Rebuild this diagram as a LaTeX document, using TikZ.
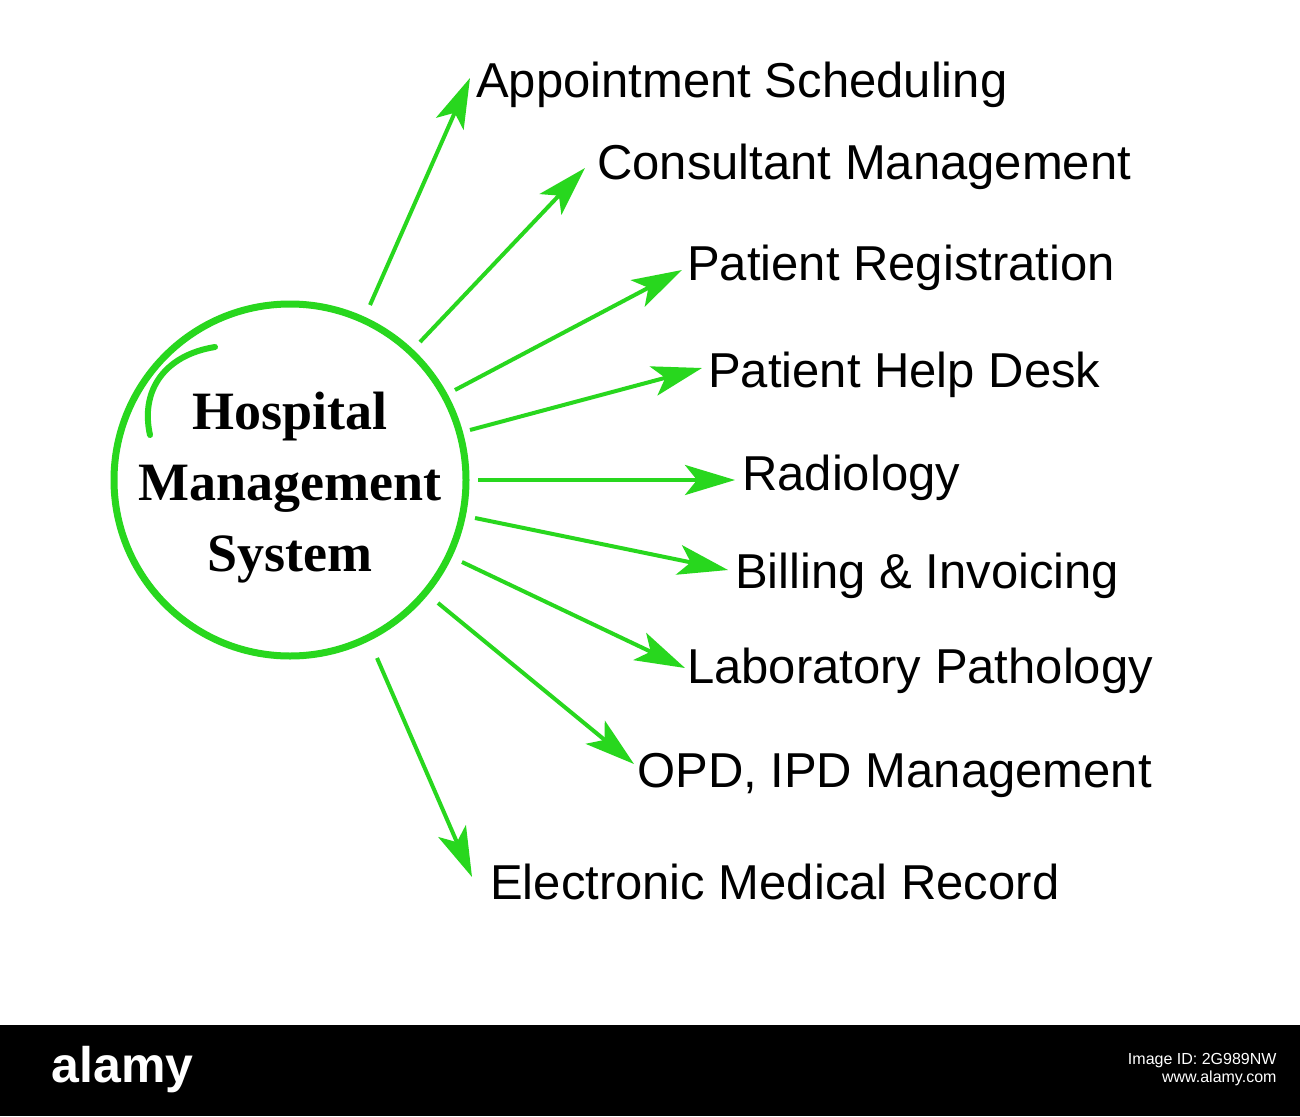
\documentclass[tikz,border=0pt]{standalone}
\usepackage{fontspec}
\setmainfont{Liberation Serif}
\newfontfamily\arialf{Liberation Sans}
\usetikzlibrary{arrows.meta}
\definecolor{hgreen}{RGB}{40,215,30}
\begin{document}
\begin{tikzpicture}[x=1pt,y=-1pt,
  lbl/.style={anchor=west,font=\arialf\fontsize{49}{52}\selectfont,inner sep=0},
  arr/.style={draw=hgreen,line width=4pt,-{Stealth[length=50pt,width=30pt,inset=12pt]}}]
\useasboundingbox[fill=white] (0,0) rectangle (1300,1116);
\node[circle,draw=hgreen,line width=7pt,minimum size=352pt] (c) at (290,480) {};
\node[align=center,font=\bfseries\fontsize{54}{71}\selectfont] (t) at (290,488) {Hospital\\Management\\System};
\draw[hgreen,line width=6pt,line cap=round] (215,347) .. controls (165,355) and (140,390) .. (150,435);
\node[lbl] (l1) at (476,85) {Appointment Scheduling};
\node[lbl] (l2) at (597,167) {Consultant Management};
\node[lbl] (l3) at (687,268) {Patient Registration};
\node[lbl] (l4) at (708,375) {Patient Help Desk};
\node[lbl] (l5) at (742,478) {Radiology};
\node[lbl] (l6) at (735,576) {Billing \& Invoicing};
\node[lbl] (l7) at (687,671) {Laboratory Pathology};
\node[lbl] (l8) at (637,775) {OPD, IPD Management};
\node[lbl] (l9) at (490,882) {Electronic Medical Record};
\coordinate (s1) at (370,305); \coordinate (e1) at (470,78);
\coordinate (s2) at (420,342); \coordinate (e2) at (585,168);
\coordinate (s3) at (455,390); \coordinate (e3) at (682,270);
\coordinate (s4) at (470,430); \coordinate (e4) at (702,368);
\coordinate (s5) at (478,480); \coordinate (e5) at (735,480);
\coordinate (s6) at (475,518); \coordinate (e6) at (728,570);
\coordinate (s7) at (462,562); \coordinate (e7) at (685,668);
\coordinate (s8) at (438,603); \coordinate (e8) at (634,764);
\coordinate (s9) at (377,658); \coordinate (e9) at (472,877);
\foreach \i in {1,...,9} \draw[arr] (s\i) -- (e\i);
\fill[black] (0,1025) rectangle (1300,1116);
\node[anchor=west,text=white,font=\arialf\bfseries\fontsize{50}{54}\selectfont] (al) at (48,1070) {alamy};
\node[anchor=east,text=white,font=\arialf\fontsize{16}{18}\selectfont,align=right] (id) at (1280,1070) {Image ID: 2G989NW\\www.alamy.com};
\end{tikzpicture}
\end{document}
